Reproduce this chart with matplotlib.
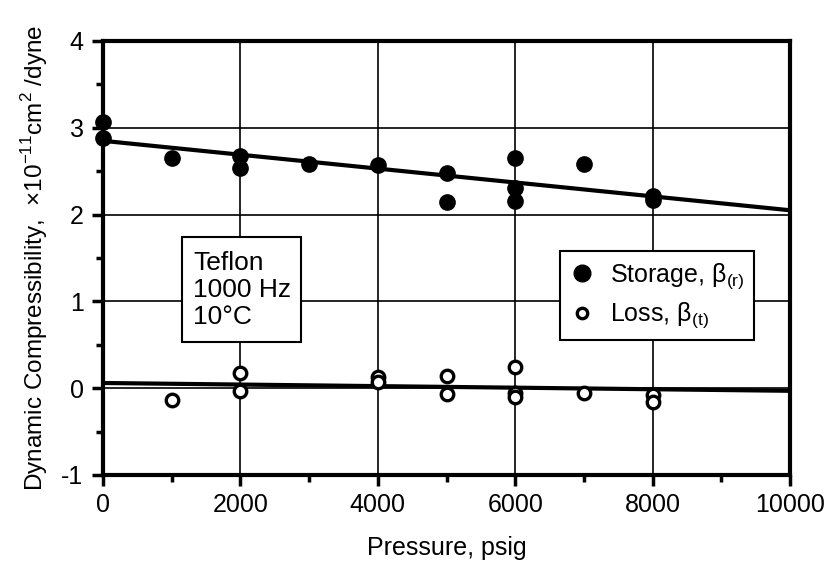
import numpy as np
import matplotlib.pyplot as plt
from matplotlib.lines import Line2D
from matplotlib.patches import Rectangle
from matplotlib.ticker import MultipleLocator

plt.rcParams['font.family'] = ['Liberation Sans', 'DejaVu Sans']
plt.rcParams['mathtext.fontset'] = 'custom'
plt.rcParams['mathtext.rm'] = 'Liberation Sans'
plt.rcParams['axes.unicode_minus'] = False

# storage compressibility (filled) and loss compressibility (open), x1e-11 cm^2/dyne
storage_p = [0, 0, 1000, 2000, 2000, 3000, 4000, 5000, 5000, 6000, 6000, 6000, 7000, 8000, 8000]
storage_b = [3.07, 2.88, 2.65, 2.68, 2.54, 2.58, 2.57, 2.48, 2.15, 2.65, 2.31, 2.16, 2.58, 2.22, 2.17]
loss_p = [1000, 2000, 2000, 4000, 4000, 5000, 5000, 6000, 6000, 6000, 7000, 8000, 8000]
loss_b = [-0.14, 0.17, -0.03, 0.13, 0.07, 0.14, -0.07, 0.25, -0.05, -0.10, -0.06, -0.08, -0.16]

# straight-line fits (intercept, slope per psig)
storage_fit = (2.85, -0.00008)
loss_fit = (0.06, -0.000009)
fit_p = np.array([0, 10000])

fig = plt.figure(figsize=(8.33, 5.65), dpi=100)
ax = fig.add_axes([103 / 833, 1 - 475 / 565, 687 / 833, 434 / 565])

ax.grid(True, color='black', linewidth=1.2)
ax.set_axisbelow(True)

ax.plot(fit_p, storage_fit[0] + storage_fit[1] * fit_p, color='black', lw=3, zorder=3)
ax.plot(fit_p, loss_fit[0] + loss_fit[1] * fit_p, color='black', lw=3, zorder=3)

ax.plot(storage_p, storage_b, 'o', color='black', ms=11, zorder=4, clip_on=False)
ax.plot(loss_p, loss_b, 'o', mfc='white', mec='black', mew=2.4, ms=9, zorder=4, clip_on=False)

ax.set_xlim(0, 10000)
ax.set_ylim(-1, 4)
ax.xaxis.set_major_locator(MultipleLocator(2000))
ax.xaxis.set_minor_locator(MultipleLocator(1000))
ax.yaxis.set_major_locator(MultipleLocator(1))
ax.yaxis.set_minor_locator(MultipleLocator(0.5))
ax.tick_params(which='major', direction='out', length=8, width=2.5, labelsize=18)
ax.tick_params(axis='x', which='major', pad=5)
ax.tick_params(axis='y', which='major', pad=6)
ax.tick_params(which='minor', direction='out', length=5, width=2.5)
for s in ax.spines.values():
    s.set_linewidth(3)

ax.set_xlabel('Pressure, psig', fontsize=18, labelpad=14)
ax.set_ylabel(r'Dynamic Compressibility,  $\times$10$^{\mathregular{-11}}$cm$^{\mathregular{2}}$ /dyne',
              fontsize=17.5, labelpad=8)

# sample / conditions box
ax.add_patch(Rectangle((0.115, 0.306), 0.173, 0.242, transform=ax.transAxes,
                       fc='white', ec='black', lw=1.5, zorder=5))
ax.text(0.131, 0.516, 'Teflon\n1000 Hz\n10°C', transform=ax.transAxes, fontsize=19,
        va='top', ha='left', linespacing=1.15, zorder=6)

handles = [
    Line2D([], [], ls='none', marker='o', color='black', ms=12),
    Line2D([], [], ls='none', marker='o', mfc='white', mec='black', mew=2.4, ms=7.5),
]
labels = [r'Storage, β$_{\mathregular{(r)}}$', r'Loss, β$_{\mathregular{(t)}}$']
leg = ax.legend(handles, labels, loc='upper left', bbox_to_anchor=(0.665, 0.516),
                fontsize=18, frameon=True, fancybox=False, edgecolor='black', framealpha=1,
                handlelength=1.0, handletextpad=0.6, labelspacing=0.4, borderpad=0.4,
                borderaxespad=0)
leg.get_frame().set_linewidth(1.5)
leg.set_zorder(5)

fig.savefig('out.png', dpi=100)
